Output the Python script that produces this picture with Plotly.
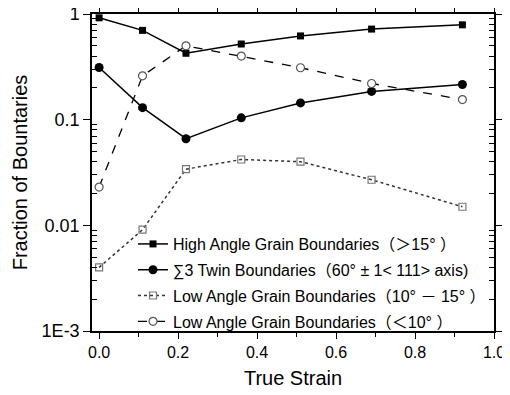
import plotly.graph_objects as go

strain = [0.0, 0.11, 0.22, 0.36, 0.51, 0.69, 0.92]
high_angle = [0.92, 0.70, 0.425, 0.52, 0.62, 0.72, 0.79]
sigma3 = [0.312, 0.13, 0.066, 0.104, 0.144, 0.185, 0.215]
low_10_15 = [0.0040, 0.0091, 0.034, 0.042, 0.040, 0.027, 0.015]
low_lt10 = [0.023, 0.26, 0.50, 0.40, 0.31, 0.22, 0.155]

names = [
    "High Angle Grain Boundaries（＞15° ）",
    "∑3 Twin Boundaries（60° ± 1< 111> axis)",
    "Low Angle Grain Boundaries（10° － 15° ）",
    "Low Angle Grain Boundaries（＜10° ）",
]
y_tickvals = [0.001, 0.01, 0.1, 1]
y_ticktext = ["1E-3", "0.01", "0.1", "1"]
y_minor = [m * 10 ** e for e in (-3, -2, -1) for m in range(2, 10)]

fig = go.Figure()
fig.add_trace(go.Scatter(x=strain, y=high_angle, name=names[0], legendgroup="a",
                         mode="lines+markers", line=dict(color="black", width=1.5),
                         marker=dict(symbol="square", size=7, color="black")))
fig.add_trace(go.Scatter(x=strain, y=sigma3, name=names[1], legendgroup="b",
                         mode="lines+markers", line=dict(color="black", width=1.5),
                         marker=dict(symbol="circle", size=9, color="black")))
fig.add_trace(go.Scatter(x=strain, y=low_10_15, name=names[2], legendgroup="c",
                         mode="lines+markers", line=dict(color="#333333", width=1.5, dash="dot"),
                         marker=dict(symbol="square-open", size=7, color="#777777", line=dict(width=1.2))))
fig.add_trace(go.Scatter(x=strain, y=low_lt10, name=names[3], legendgroup="d",
                         mode="lines+markers", line=dict(color="black", width=1.3, dash="dash"),
                         marker=dict(symbol="circle", size=8, color="white", line=dict(color="#555555", width=1.2))))

axis_common = dict(showline=True, linecolor="black", linewidth=1.5, mirror="ticks",
                   showgrid=False, zeroline=False, ticks="outside", tickcolor="black",
                   tickwidth=1.2, automargin=False, ticklabeloverflow="allow")
fig.update_xaxes(range=[-0.018, 1.0], dtick=0.2, tick0=0, tickformat=".1f", ticklen=6,
                 minor=dict(dtick=0.1, ticks="outside", ticklen=4, tickcolor="black", showgrid=False),
                 title=dict(text="True Strain", font=dict(size=20), standoff=11),
                 tickfont=dict(size=16), **axis_common)
fig.update_yaxes(type="log", range=[-3, 0], tickvals=y_tickvals, ticktext=y_ticktext, ticklen=7,
                 minor=dict(tickvals=y_minor, ticks="inside", ticklen=5, tickcolor="black", showgrid=False),
                 title=dict(text="Fraction of Bountaries", font=dict(size=20), standoff=9),
                 tickfont=dict(size=18), **axis_common)

fig.update_layout(
    width=502, height=387,
    margin=dict(l=84, r=16, t=6, b=64),
    plot_bgcolor="white", paper_bgcolor="white",
    font=dict(family="Liberation Sans, Arial, Noto Sans CJK SC", color="black"),
    legend=dict(x=0.102, y=0.328, xanchor="left", yanchor="top", bgcolor="rgba(0,0,0,0)",
                font=dict(size=16, family="Liberation Sans, Noto Sans CJK SC"),
                tracegroupgap=2, itemwidth=30),
    showlegend=True,
)
fig.write_html("out.html")
